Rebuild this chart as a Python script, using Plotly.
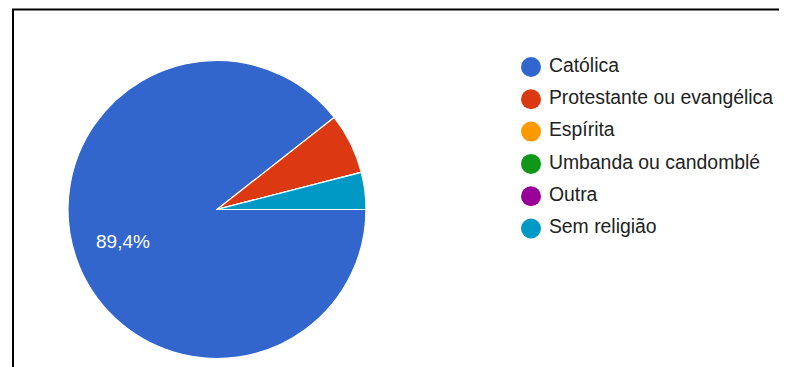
import math
import plotly.graph_objects as go

# Data
categories = ["Católica", "Protestante ou evangélica", "Espírita",
              "Umbanda ou candomblé", "Outra", "Sem religião"]
values = [89.4, 6.6, 0, 0, 0, 4.0]
slice_labels = ["89,4%", "", "", "", "", ""]
colors = ["#3366cc", "#dc3912", "#ff9900", "#109618", "#990099", "#0099c6"]

# The page adds an 8px body margin; work in page pixels and shift.
OFF = 8
W, H = 787 - OFF, 367 - OFF
FONT = "Liberation Sans, Arial, sans-serif"


def px(xp):
    return (xp - OFF) / W


def py(yp):
    return (H - (yp - OFF)) / H


fig = go.Figure()

# Pie
cx, cy, r = 217, 209.5, 149
fig.add_trace(go.Pie(
    labels=categories, values=values,
    textinfo="none",
    marker=dict(colors=colors, line=dict(color="white", width=1.2)),
    sort=False, direction="clockwise", rotation=90,
    showlegend=False, hoverinfo="label+percent",
    domain=dict(x=[px(cx - r), px(cx + r)], y=[py(cy + r), py(cy - r)]),
))

# Slice labels placed at each slice's mid-angle (computed from the values)
total = sum(values)
annotations = []
acc = 0.0
for lab, v in zip(slice_labels, values):
    mid = (acc + v / 2) / total * 2 * math.pi  # clockwise from 3 o'clock
    acc += v
    if not lab:
        continue
    rr = 0.667 * r
    annotations.append(dict(
        x=px(cx + rr * math.cos(mid)), y=py(cy + rr * math.sin(mid)),
        xref="paper", yref="paper", text=lab, showarrow=False,
        font=dict(family=FONT, size=19, color="white"),
        xanchor="center", yanchor="middle",
    ))

# Custom legend (circle markers) drawn through a hidden axis
idx = list(range(len(categories)))
fig.add_trace(go.Scatter(
    x=[0] * len(categories), y=idx, mode="markers",
    marker=dict(size=20, color=colors, line=dict(width=0)),
    xaxis="x", yaxis="y", showlegend=False, hoverinfo="skip", cliponaxis=False,
))
fig.add_trace(go.Scatter(
    x=[0] * len(categories), y=idx, mode="markers+text", text=categories,
    textposition="middle right",
    textfont=dict(family=FONT, size=19.4, color="#222222"),
    marker=dict(size=27, color="rgba(0,0,0,0)"),
    xaxis="x", yaxis="y", showlegend=False, hoverinfo="skip", cliponaxis=False,
))

row0, step = 67, 32.3
top_val = (OFF - row0) / step
bot_val = (OFF + H - row0) / step
fig.update_layout(
    width=W, height=H, margin=dict(l=0, r=0, t=0, b=0),
    paper_bgcolor="white", plot_bgcolor="rgba(0,0,0,0)",
    xaxis=dict(domain=[px(531), 1], range=[0, 1], visible=False, fixedrange=True),
    yaxis=dict(domain=[0, 1], range=[bot_val, top_val],
               visible=False, fixedrange=True),
    annotations=annotations,
    shapes=[
        dict(type="line", xref="paper", yref="paper",
             x0=px(13), x1=px(13), y0=py(9.5), y1=-0.05,
             line=dict(color="black", width=2)),
        dict(type="line", xref="paper", yref="paper",
             x0=px(12), x1=1.05, y0=py(9.5), y1=py(9.5),
             line=dict(color="black", width=2)),
    ],
)

fig.write_html("out.html")
